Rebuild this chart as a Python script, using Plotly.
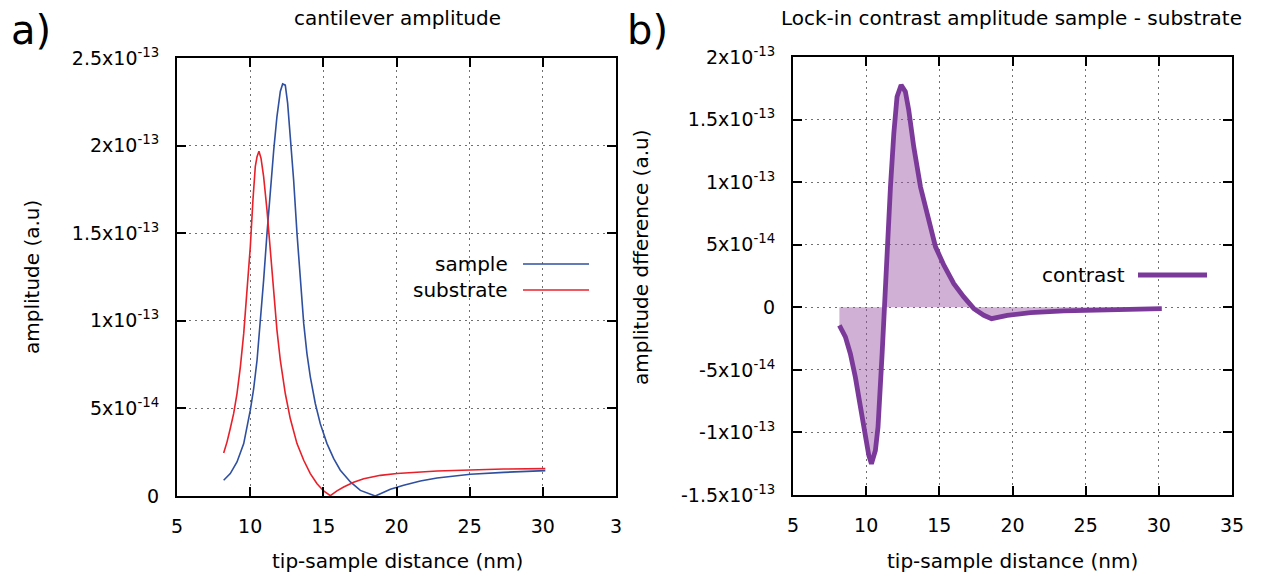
import plotly.graph_objects as go

# ---------------- data ----------------
sub_x = [8.19, 8.42, 8.64, 8.87, 9.10, 9.33, 9.56, 9.78, 10.01, 10.19, 10.35, 10.47, 10.60,
         10.74, 10.92, 11.15, 11.38, 11.61, 11.83, 12.06, 12.40, 12.74, 13.20, 13.66, 14.11,
         14.57, 15.02, 15.48, 15.93, 16.39, 17.07, 17.76, 18.90, 20.03, 22.77, 27.32, 30.17]
sub_y = [0.246, 0.309, 0.385, 0.470, 0.585, 0.737, 0.928, 1.156, 1.423, 1.690, 1.880, 1.937,
         1.968, 1.928, 1.823, 1.632, 1.385, 1.156, 0.947, 0.775, 0.585, 0.442, 0.299, 0.204,
         0.128, 0.070, 0.029, 0.002, 0.029, 0.051, 0.078, 0.099, 0.118, 0.128, 0.143, 0.154,
         0.156]

smp_x = [8.19, 8.64, 9.10, 9.56, 10.01, 10.24, 10.47, 10.69, 10.92, 11.15, 11.38, 11.61,
         11.83, 12.06, 12.22, 12.40, 12.56, 12.74, 12.97, 13.20, 13.43, 13.66, 13.88, 14.11,
         14.45, 14.79, 15.25, 15.71, 16.16, 16.85, 17.53, 18.21, 18.55, 18.90, 19.58, 20.49,
         21.63, 22.77, 25.05, 27.32, 30.17]
smp_y = [0.090, 0.128, 0.194, 0.299, 0.490, 0.613, 0.775, 0.985, 1.232, 1.499, 1.747, 1.975,
         2.166, 2.309, 2.352, 2.345, 2.242, 2.070, 1.804, 1.499, 1.213, 0.985, 0.813, 0.680,
         0.528, 0.413, 0.299, 0.213, 0.147, 0.080, 0.032, 0.008, 0.0, 0.013, 0.038, 0.061,
         0.086, 0.103, 0.124, 0.135, 0.145]

con_x = [8.17, 8.58, 8.92, 9.26, 9.61, 9.95, 10.18, 10.36, 10.63, 10.81, 10.97, 11.09, 11.25,
         11.43, 11.66, 11.89, 12.11, 12.39, 12.68, 12.91, 13.25, 13.71, 14.17, 14.74, 15.31,
         15.99, 16.67, 17.36, 18.04, 18.57, 19.64, 21.23, 23.51, 25.79, 28.07, 30.2]
con_y = [-0.144, -0.237, -0.371, -0.557, -0.797, -1.037, -1.184, -1.25, -1.144, -0.957, -0.691,
         -0.371, 0.0, 0.483, 0.963, 1.389, 1.683, 1.776, 1.723, 1.576, 1.283, 0.963, 0.749,
         0.483, 0.336, 0.189, 0.083, -0.011, -0.064, -0.091, -0.064, -0.043, -0.029, -0.021,
         -0.013, -0.011]

UNIT = 1e-13
sub_y = [v * UNIT for v in sub_y]
smp_y = [v * UNIT for v in smp_y]
con_y = [v * UNIT for v in con_y]

x_ticks = [5, 10, 15, 20, 25, 30, 35]
x_text_a = ["5", "10", "15", "20", "25", "30", "3"]
x_text_b = ["5", "10", "15", "20", "25", "30", "35"]
ya_ticks = [0, 5e-14, 1e-13, 1.5e-13, 2e-13, 2.5e-13]
ya_text = ["0", "5x10<sup>-14</sup>", "1x10<sup>-13</sup>", "1.5x10<sup>-13</sup>",
           "2x10<sup>-13</sup>", "2.5x10<sup>-13</sup>"]
yb_ticks = [-1.5e-13, -1e-13, -5e-14, 0, 5e-14, 1e-13, 1.5e-13, 2e-13]
yb_text = ["-1.5x10<sup>-13</sup>", "-1x10<sup>-13</sup>", "-5x10<sup>-14</sup>", "0",
           "5x10<sup>-14</sup>", "1x10<sup>-13</sup>", "1.5x10<sup>-13</sup>", "2x10<sup>-13</sup>"]

BLUE = "#2f4f9f"
RED = "#e8202a"
PURPLE = "#7b3a9a"
FILL = "rgba(150, 80, 160, 0.45)"
FONT = "DejaVu Sans"
W, H = 1265, 577
TXT = 20
TICK = 19

fig = go.Figure()
fig.add_trace(go.Scatter(x=smp_x, y=smp_y, mode="lines", line=dict(color=BLUE, width=1.6),
                         name="sample", xaxis="x", yaxis="y", showlegend=False))
fig.add_trace(go.Scatter(x=sub_x, y=sub_y, mode="lines", line=dict(color=RED, width=1.6),
                         name="substrate", xaxis="x", yaxis="y", showlegend=False))
fig.add_trace(go.Scatter(x=con_x, y=con_y, mode="lines", fill="tozeroy", fillcolor=FILL,
                         line=dict(color=PURPLE, width=4.8), name="contrast",
                         xaxis="x2", yaxis="y2", showlegend=False))

def px(X):
    return X / W

def py(Y):
    return 1 - Y / H

axis_common = dict(
    showline=True, linecolor="black", linewidth=2, mirror="ticks",
    ticks="inside", ticklen=9, tickwidth=1.8, tickcolor="black",
    showgrid=True, gridcolor="#707070", gridwidth=1, griddash="1.5px,4.5px",
    zeroline=False, tickfont=dict(family=FONT, size=TICK, color="black"),
    tickmode="array", fixedrange=True, automargin=False,
)

fig.update_layout(
    width=W, height=H, autosize=False,
    margin=dict(l=0, r=0, t=0, b=0, pad=0, autoexpand=False),
    paper_bgcolor="white", plot_bgcolor="white",
    font=dict(family=FONT, color="black"),
    xaxis=dict(domain=[px(177), px(616)], range=[5, 35], tickvals=x_ticks, ticktext=x_text_a,
               anchor="y", ticklabelstandoff=12, **axis_common),
    yaxis=dict(domain=[py(496), py(58)], range=[0, 2.5e-13], tickvals=ya_ticks, ticktext=ya_text,
               anchor="x", ticklabelstandoff=12, **axis_common),
    xaxis2=dict(domain=[px(793), px(1232)], range=[5, 35], tickvals=x_ticks, ticktext=x_text_b,
                anchor="y2", ticklabelstandoff=12, **axis_common),
    yaxis2=dict(domain=[py(495), py(57)], range=[-1.5e-13, 2e-13], tickvals=yb_ticks,
                ticktext=yb_text, anchor="x2", ticklabelstandoff=12, **axis_common),
)

ann = []
def text(X, Y, s, size, xanchor="center", yanchor="middle", angle=0):
    ann.append(dict(x=px(X), y=py(Y), xref="paper", yref="paper", text=s, showarrow=False,
                    xanchor=xanchor, yanchor=yanchor, textangle=angle,
                    font=dict(family=FONT, size=size, color="black")))

text(31, 30, "a)", 40)
text(647, 30, "b)", 40)
text(397, 18, "cantilever amplitude", TXT)
text(1011, 18, "Lock-in contrast amplitude sample - substrate", TXT)
text(32, 277, "amplitude (a.u)", TXT, angle=-90)
text(641, 257, "amplitude dfference (a.u)", TXT, angle=-90)
text(397, 561, "tip-sample distance (nm)", TXT)
text(1012, 561, "tip-sample distance (nm)", TXT)
# legends
text(510, 264, "sample", TXT, xanchor="right")
text(510, 290, "substrate", TXT, xanchor="right")
text(1127, 275, "contrast", TXT, xanchor="right")
fig.update_layout(annotations=ann)

shapes = [
    # legend backgrounds (hide grid behind key)
    dict(type="rect", xref="paper", yref="paper", x0=px(392), x1=px(600), y0=py(307), y1=py(249),
         fillcolor="white", line=dict(width=0), layer="between"),
    dict(type="rect", xref="paper", yref="paper", x0=px(1027), x1=px(1222), y0=py(291), y1=py(262),
         fillcolor="white", line=dict(width=0), layer="between"),
    # legend samples
    dict(type="line", xref="paper", yref="paper", x0=px(523), x1=px(589), y0=py(264), y1=py(264),
         line=dict(color=BLUE, width=1.6)),
    dict(type="line", xref="paper", yref="paper", x0=px(523), x1=px(589), y0=py(290), y1=py(290),
         line=dict(color=RED, width=1.6)),
    dict(type="line", xref="paper", yref="paper", x0=px(1138), x1=px(1207), y0=py(275), y1=py(275),
         line=dict(color=PURPLE, width=4.8)),
]
fig.update_layout(shapes=shapes)

# remove the default page margin so the figure fills the 1265x577 window exactly
fig.write_html("out.html", config={"displayModeBar": False},
               post_script="document.body.style.margin='0px';"
                           "document.body.style.overflow='hidden';")
